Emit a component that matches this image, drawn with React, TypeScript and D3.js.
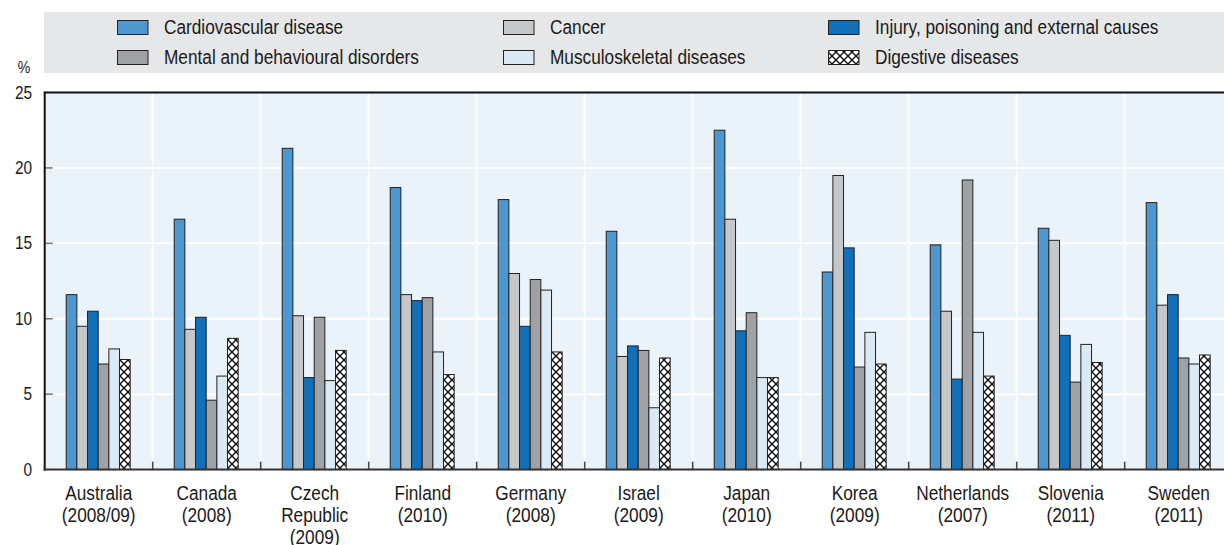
import * as d3 from "d3";

const countries = [
  ["Australia", "(2008/09)"],
  ["Canada", "(2008)"],
  ["Czech", "Republic", "(2009)"],
  ["Finland", "(2010)"],
  ["Germany", "(2008)"],
  ["Israel", "(2009)"],
  ["Japan", "(2010)"],
  ["Korea", "(2009)"],
  ["Netherlands", "(2007)"],
  ["Slovenia", "(2011)"],
  ["Sweden", "(2011)"],
];

const seriesNames = [
  "Cardiovascular disease",
  "Cancer",
  "Injury, poisoning and external causes",
  "Mental and behavioural disorders",
  "Musculoskeletal diseases",
  "Digestive diseases",
];

const cardiovascular = [11.6, 16.6, 21.3, 18.7, 17.9, 15.8, 22.5, 13.1, 14.9, 16.0, 17.7];
const cancer = [9.5, 9.3, 10.2, 11.6, 13.0, 7.5, 16.6, 19.5, 10.5, 15.2, 10.9];
const injury = [10.5, 10.1, 6.1, 11.2, 9.5, 8.2, 9.2, 14.7, 6.0, 8.9, 11.6];
const mental = [7.0, 4.6, 10.1, 11.4, 12.6, 7.9, 10.4, 6.8, 19.2, 5.8, 7.4];
const musculoskeletal = [8.0, 6.2, 5.9, 7.8, 11.9, 4.1, 6.1, 9.1, 9.1, 8.3, 7.0];
const digestive = [7.3, 8.7, 7.9, 6.3, 7.8, 7.4, 6.1, 7.0, 6.2, 7.1, 7.6];

const seriesValues = [cardiovascular, cancer, injury, mental, musculoskeletal, digestive];
const seriesFills = ["#4e97ce", "#c6c7c9", "#1170b9", "#a0a1a5", "#dae9f4", "url(#hatch)"];

const yTicks = [0, 5, 10, 15, 20, 25];

const W = 1224;
const H = 545;
const left = 44.7;
const bandW = 108;
const top = 92.5;
const bottom = 469.6;

const font = "'Liberation Sans', Arial, sans-serif";
const SX = 0.88; // horizontal squeeze to imitate the condensed face

// text squeezed horizontally around its anchor point
const Narrow = (p: {
  x: number;
  y: number;
  size: number;
  anchor?: string;
  children: any;
}) => (
  <g transform={`translate(${p.x},${p.y}) scale(${SX},1)`}>
    <text x={0} y={0} dy="0.35em" fontSize={p.size} textAnchor={p.anchor || "start"} fill="#1a1a1a">
      {p.children}
    </text>
  </g>
);

export default function App() {
  const x = d3
    .scaleBand<number>()
    .domain(d3.range(countries.length))
    .range([left, left + bandW * countries.length]);
  const xs = d3
    .scaleBand<number>()
    .domain(d3.range(seriesNames.length))
    .range([21.5, 85.5]);
  const y = d3.scaleLinear().domain([0, 25]).range([bottom, top]);
  const plotRight = left + bandW * countries.length;

  const legendCols = [117, 503, 828];
  const legendRows = [20, 50];

  return (
    <svg
      width={W}
      height={H}
      style={{ position: "absolute", left: 0, top: 0, fontFamily: font }}
    >
      <defs>
        <pattern id="hatch" width="8" height="8" patternUnits="userSpaceOnUse">
          <rect width="8" height="8" fill="#fff" />
          <path d="M-1,1 L1,-1 M0,8 L8,0 M7,9 L9,7" stroke="#111" strokeWidth="1.4" />
          <path d="M-1,7 L1,9 M0,0 L8,8 M7,-1 L9,1" stroke="#111" strokeWidth="1.4" />
        </pattern>
      </defs>
      <rect width={W} height={H} fill="#fff" />

      {/* legend */}
      <rect x={44} y={12} width={W - 44} height={61} fill="#e6e7e8" />
      {seriesNames.map((name, s) => {
        const cx = legendCols[s % 3];
        const cy = legendRows[Math.floor(s / 3)];
        return (
          <g key={s}>
            <rect
              x={cx + 0.5}
              y={cy + 0.5}
              width={30.5}
              height={14}
              fill={seriesFills[s]}
              stroke="#222"
              strokeWidth={1}
            />
            <Narrow x={cx + 47} y={cy + 7.5} size={19.6}>
              {name}
            </Narrow>
          </g>
        );
      })}

      {/* plot background */}
      <rect x={left} y={top} width={plotRight - left} height={bottom - top} fill="#ebf3fa" />
      {yTicks.slice(1, -1).map((t) => (
        <line key={t} x1={left + 8} x2={plotRight} y1={y(t)} y2={y(t)} stroke="#fff" strokeWidth={2} />
      ))}
      {d3.range(1, countries.length).map((i) => (
        <line
          key={i}
          x1={x(i)!}
          x2={x(i)!}
          y1={top}
          y2={bottom - 8}
          stroke="#fff"
          strokeWidth={2}
        />
      ))}
      {yTicks.slice(1, -1).map((t) => (
        <line key={t} x1={left} x2={left + 8} y1={y(t)} y2={y(t)} stroke="#777" strokeWidth={1.5} />
      ))}
      {d3.range(1, countries.length).map((i) => (
        <line key={i} x1={x(i)!} x2={x(i)!} y1={bottom - 8} y2={bottom} stroke="#444" strokeWidth={1.5} />
      ))}

      {/* bars */}
      {countries.map((_, ci) =>
        seriesValues.map((vals, si) => (
          <rect
            key={`${ci}-${si}`}
            x={x(ci)! + xs(si)!}
            y={y(vals[ci])}
            width={xs.bandwidth()}
            height={bottom - y(vals[ci])}
            fill={seriesFills[si]}
            stroke="#222"
            strokeWidth={1}
          />
        ))
      )}

      {/* axes */}
      <line x1={left} x2={plotRight} y1={top} y2={top} stroke="#111" strokeWidth={2} />
      <line x1={left} x2={left} y1={top - 1} y2={bottom + 1} stroke="#111" strokeWidth={2} />
      <line x1={left - 1} x2={plotRight} y1={bottom} y2={bottom} stroke="#333" strokeWidth={2} />

      {yTicks.map((t) => (
        <Narrow key={t} x={32} y={y(t)} size={17.5} anchor="end">
          {t}
        </Narrow>
      ))}
      <Narrow x={24} y={67} size={16} anchor="middle">
        %
      </Narrow>

      {countries.map((lines, ci) =>
        lines.map((l, li) => (
          <Narrow key={`${ci}-${li}`} x={x(ci)! + bandW / 2} y={493 + li * 22} size={19.6} anchor="middle">
            {l}
          </Narrow>
        ))
      )}
    </svg>
  );
}
